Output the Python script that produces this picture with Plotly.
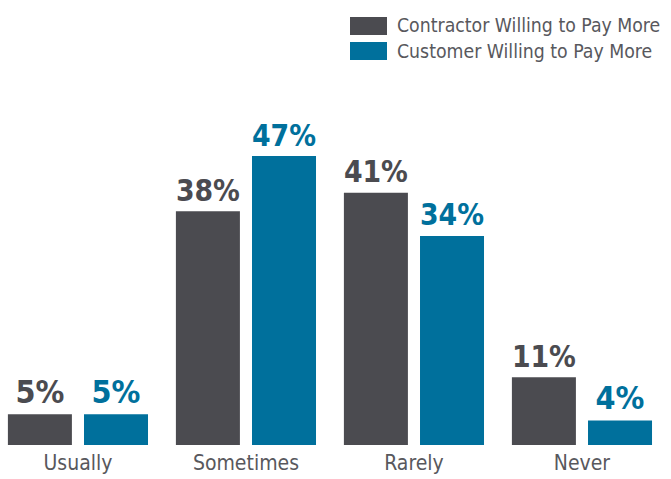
import plotly.graph_objects as go

categories = ["Usually", "Sometimes", "Rarely", "Never"]
series_names = ["Contractor Willing to Pay More", "Customer Willing to Pay More"]
contractor = [5, 38, 41, 11]
customer = [5, 47, 34, 4]
colors = ["#4b4b50", "#00709c"]

W, H = 671, 479
T, B = 60, 34
FONT = "DejaVu Sans Condensed"
PH = H - T - B

fig = go.Figure()
offsets = [-0.417, 0.036]
for vals, name, col, off in zip([contractor, customer], series_names, colors, offsets):
    fig.add_trace(go.Bar(
        x=list(range(len(categories))), y=vals, name=name,
        marker=dict(color=col, line=dict(width=0)),
        width=0.381, offset=off,
        text=[f"{v}%" for v in vals], textposition="outside",
        textfont=dict(family=FONT, size=32, color=col, weight="bold"),
        cliponaxis=False, showlegend=False, hoverinfo="skip",
    ))

# legend drawn manually (pixel positions converted to plot-area paper coords)
def py(ypix):
    return (H - B - ypix) / PH

for i, (name, col) in enumerate(zip(series_names, colors)):
    y0 = 17 + i * 25
    fig.add_shape(type="rect", xref="paper", yref="paper",
                  x0=350 / W, x1=387 / W, y0=py(y0 + 18), y1=py(y0),
                  fillcolor=col, line=dict(width=0), layer="above")
    fig.add_annotation(xref="paper", yref="paper", x=395 / W, y=py(y0 + 9),
                       text=name, showarrow=False, xanchor="left", yanchor="middle",
                       font=dict(family=FONT, size=19.3, color="#58585d"))

fig.update_layout(
    width=W, height=H, barmode="overlay",
    margin=dict(l=0, r=0, t=T, b=B),
    paper_bgcolor="white", plot_bgcolor="white",
    showlegend=False,
    xaxis=dict(range=[-0.464, 3.530], tickmode="array",
               tickvals=list(range(len(categories))), ticktext=categories,
               showgrid=False, zeroline=False, showline=False, ticks="",
               ticklabelstandoff=3,
               tickfont=dict(family=FONT, size=21, color="#58585d")),
    yaxis=dict(range=[0, 62.6], visible=False, showgrid=False),
)

fig.write_html("out.html", config={"displayModeBar": False},
               post_script="document.body.style.margin='0';")
